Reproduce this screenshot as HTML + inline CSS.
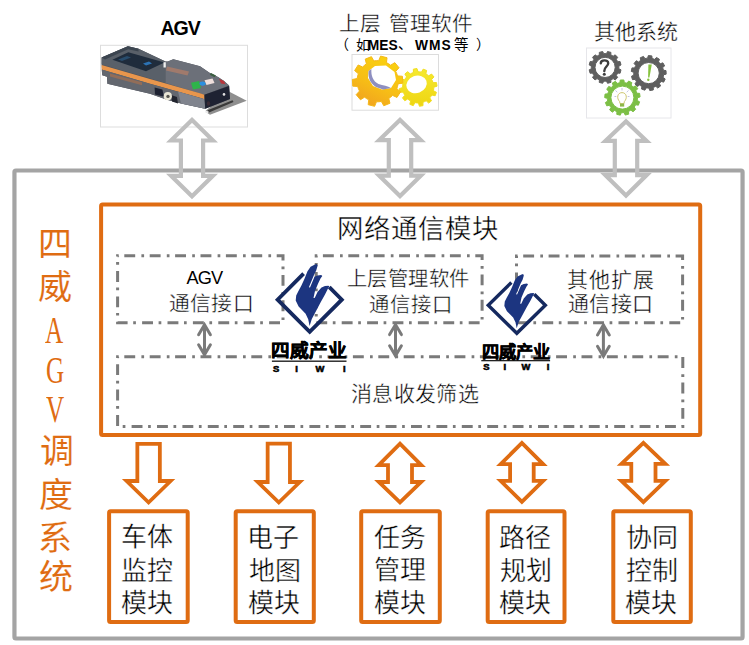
<!DOCTYPE html>
<html lang="zh-CN"><head><meta charset="utf-8"><title>四威AGV调度系统</title>
<style>
html,body{margin:0;padding:0;background:#fff;}
body{width:749px;height:645px;position:relative;overflow:hidden;font-family:"Liberation Serif",serif;}
svg.bg{position:absolute;left:0;top:0;}
.t{position:absolute;white-space:nowrap;}
</style></head><body>
<svg class="bg" width="749" height="645" viewBox="0 0 749 645">
<rect x="14.45" y="170.5" width="728.1" height="468" fill="none" stroke="#A4A4A4" stroke-width="4.2" rx="1.5"/>
<rect x="100.5" y="45.3" width="147" height="81.7" fill="#fff" stroke="#DDDDDD" stroke-width="1"/>
<rect x="352" y="54.5" width="86.5" height="55.7" fill="#fff" stroke="#DCDCDC" stroke-width="1"/>
<rect x="586.5" y="48" width="84.5" height="70" fill="#fff" stroke="#E6E6EA" stroke-width="1"/>
<clipPath id="ga0"><polygon points="192,117 218,142.6 205.2,142.6 205.2,173.7 218,173.7 192,199.3 166,173.7 178.8,173.7 178.8,142.6 166,142.6"/></clipPath><polygon points="192,117 218,142.6 205.2,142.6 205.2,173.7 218,173.7 192,199.3 166,173.7 178.8,173.7 178.8,142.6 166,142.6" fill="none" stroke="#BFBFBF" stroke-width="8.4" stroke-linejoin="miter" stroke-miterlimit="10" clip-path="url(#ga0)"/>
<clipPath id="ga1"><polygon points="400,117 426,142.3 413.3,142.3 413.3,173.6 426,173.6 400,198.9 374,173.6 386.7,173.6 386.7,142.3 374,142.3"/></clipPath><polygon points="400,117 426,142.3 413.3,142.3 413.3,173.6 426,173.6 400,198.9 374,173.6 386.7,173.6 386.7,142.3 374,142.3" fill="none" stroke="#BFBFBF" stroke-width="8.4" stroke-linejoin="miter" stroke-miterlimit="10" clip-path="url(#ga1)"/>
<clipPath id="ga2"><polygon points="626,118.4 651.8,143 639.3,143 639.3,173.1 651.8,173.1 626,198.6 600.2,173.1 612.7,173.1 612.7,143 600.2,143"/></clipPath><polygon points="626,118.4 651.8,143 639.3,143 639.3,173.1 651.8,173.1 626,198.6 600.2,173.1 612.7,173.1 612.7,143 600.2,143" fill="none" stroke="#BFBFBF" stroke-width="8.4" stroke-linejoin="miter" stroke-miterlimit="10" clip-path="url(#ga2)"/>
<rect x="101.1" y="204.6" width="599.1" height="230.4" fill="none" stroke="#DF6C12" stroke-width="4" rx="1.5"/>
<rect x="117.6" y="255.8" width="165.4" height="66.9" fill="none" stroke="#7A7A7A" stroke-width="3" stroke-dasharray="2.7 5.6 10.9 6.2" stroke-dashoffset="1.6"/>
<rect x="316.2" y="255.8" width="165.9" height="66.9" fill="none" stroke="#7A7A7A" stroke-width="3" stroke-dasharray="2.7 5.6 10.9 6.2" stroke-dashoffset="1.6"/>
<rect x="516.5" y="256" width="166.1" height="66.8" fill="none" stroke="#7A7A7A" stroke-width="3" stroke-dasharray="2.7 5.6 10.9 6.2" stroke-dashoffset="1.6"/>
<rect x="117.6" y="356.8" width="565.2" height="69.6" fill="none" stroke="#7A7A7A" stroke-width="3" stroke-dasharray="2.7 5.6 10.9 6.2" stroke-dashoffset="1.6"/>
<g stroke="#7A7A7A" stroke-width="3" fill="none" stroke-linecap="round" stroke-linejoin="miter"><line x1="204.5" y1="325.5" x2="204.5" y2="354"/><polyline points="198.6,334.8 204.5,324.8 210.4,334.8"/><polyline points="198.6,344.7 204.5,354.7 210.4,344.7"/></g>
<g stroke="#7A7A7A" stroke-width="3" fill="none" stroke-linecap="round" stroke-linejoin="miter"><line x1="395.5" y1="325.3" x2="395.5" y2="355"/><polyline points="389.6,334.6 395.5,324.6 401.4,334.6"/><polyline points="389.6,345.7 395.5,355.7 401.4,345.7"/></g>
<g stroke="#7A7A7A" stroke-width="3" fill="none" stroke-linecap="round" stroke-linejoin="miter"><line x1="603.4" y1="325.7" x2="603.4" y2="355.5"/><polyline points="597.5,335 603.4,325 609.3,335"/><polyline points="597.5,346.2 603.4,356.2 609.3,346.2"/></g>
<clipPath id="oa0"><polygon points="135.45,441.9 161.75,441.9 161.75,479.1 175.3,479.1 148.6,505.1 121.9,479.1 135.45,479.1"/></clipPath><polygon points="135.45,441.9 161.75,441.9 161.75,479.1 175.3,479.1 148.6,505.1 121.9,479.1 135.45,479.1" fill="none" stroke="#DF6C12" stroke-width="7.6" stroke-linejoin="miter" stroke-miterlimit="10" clip-path="url(#oa0)"/>
<clipPath id="oa1"><polygon points="265.75,441.7 291.85,441.7 291.85,480.1 304.5,480.1 278.8,505.1 253.1,480.1 265.75,480.1"/></clipPath><polygon points="265.75,441.7 291.85,441.7 291.85,480.1 304.5,480.1 278.8,505.1 253.1,480.1 265.75,480.1" fill="none" stroke="#DF6C12" stroke-width="7.6" stroke-linejoin="miter" stroke-miterlimit="10" clip-path="url(#oa1)"/>
<clipPath id="oa2"><polygon points="400,441 425.9,467 413.9,467 413.9,480.1 425.9,480.1 400,505.1 374.1,480.1 386.1,480.1 386.1,467 374.1,467"/></clipPath><polygon points="400,441 425.9,467 413.9,467 413.9,480.1 425.9,480.1 400,505.1 374.1,480.1 386.1,480.1 386.1,467 374.1,467" fill="none" stroke="#DF6C12" stroke-width="7.6" stroke-linejoin="miter" stroke-miterlimit="10" clip-path="url(#oa2)"/>
<clipPath id="oa3"><polygon points="521.9,440.3 547.75,466 535.6,466 535.6,479 547.75,479 521.9,504.4 496.05,479 508.2,479 508.2,466 496.05,466"/></clipPath><polygon points="521.9,440.3 547.75,466 535.6,466 535.6,479 547.75,479 521.9,504.4 496.05,479 508.2,479 508.2,466 496.05,466" fill="none" stroke="#DF6C12" stroke-width="7.6" stroke-linejoin="miter" stroke-miterlimit="10" clip-path="url(#oa3)"/>
<clipPath id="oa4"><polygon points="643.4,440.3 670.1,465.7 657.4,465.7 657.4,479 670.1,479 643.4,504.7 616.7,479 629.4,479 629.4,465.7 616.7,465.7"/></clipPath><polygon points="643.4,440.3 670.1,465.7 657.4,465.7 657.4,479 670.1,479 643.4,504.7 616.7,479 629.4,479 629.4,465.7 616.7,465.7" fill="none" stroke="#DF6C12" stroke-width="7.6" stroke-linejoin="miter" stroke-miterlimit="10" clip-path="url(#oa4)"/>
<rect x="109.1" y="511.3" width="78.6" height="110.7" fill="none" stroke="#DF6C12" stroke-width="4" rx="1.5"/>
<rect x="235.7" y="511.3" width="78.1" height="110.7" fill="none" stroke="#DF6C12" stroke-width="4" rx="1.5"/>
<rect x="361.2" y="511.3" width="78.6" height="110.7" fill="none" stroke="#DF6C12" stroke-width="4" rx="1.5"/>
<rect x="487.7" y="511.3" width="76.8" height="110.7" fill="none" stroke="#DF6C12" stroke-width="4" rx="1.5"/>
<rect x="613.3" y="511.3" width="77.5" height="110.7" fill="none" stroke="#DF6C12" stroke-width="4" rx="1.5"/>
<g><polygon points="228,91 246.7,100.8 210,114.8 205,111.5" fill="#8F8F8F"/><polygon points="207.5,110.2 232.5,100.3 233.5,102 209,112.4" fill="#3A3A3A"/><polygon points="205,110.8 208.6,111.5 208,113 205,112.4" fill="#F2F2F2"/><polygon points="101.6,57.6 127.9,46.3 138.5,48.8 165.5,61.5 167.8,61.4 173.3,59.3 200,66.3 209.5,72.7 218,76.9 224,81 229.1,85.5 230,99.1 205.2,108.8 181,103.5 167,99.8 150,93.8 107.4,83.8 107,76.8 102.3,75.2 101.6,64" fill="#4E525B"/><polygon points="101.6,57.6 127.9,46.3 138.5,48.8 165.5,61.5 165.5,82.9 101.6,64.6" fill="#596069"/><polygon points="101.6,57.6 127.9,46.3 138.5,48.8 138.5,51.6 128.2,49.2 105,59.6" fill="#3C4550"/><polygon points="112.4,59.8 128.3,52.2 164.5,62.6 146,71.2" fill="#1F2C3C"/><polygon points="143,63.5 149,61.5 152,63.5 146,65.5" fill="#2C73B5"/><polygon points="118,59.5 127,56 131,57.5 122,61" fill="#2C5A80" opacity="0.7"/><polygon points="165.5,61.5 167.8,61.4 173.3,59.3 200,66.3 209.5,72.7 218,76.9 224,81 229.1,85.5 204.4,94.8 165.5,83" fill="#6C7079"/><polygon points="163.5,62.2 165.8,62.2 165.8,67.5 163.5,67.5" fill="#F0F0F0"/><polygon points="167,66.5 189,71.5 187.5,75.5 166,70.5" fill="#A07A6C"/><polygon points="101.6,65 150,79.1 200,93.3 204.4,94.7 204.4,99.2 200,97.8 150,83.8 101.6,69.6" fill="#E9964C"/><polygon points="101.6,69.6 150,83.8 204.4,99.2 205.2,108.8 181,103.5 167,99.8 150,93.8 107.4,83.8 107,76.8 102.3,75.2" fill="#63676F"/><polygon points="178,91.5 204.4,99.2 205.2,108.8 181,103.5" fill="#80848E"/><polygon points="110,73.5 142,82.3 142,85.3 110,76.5" fill="#9A6E55" opacity="0.85"/><polygon points="154.6,87.4 162.4,89.6 164,96.8 155,94.6" fill="#1E2232"/><polygon points="171,95 177,97 178,103.5 172,101.5" fill="#22252F"/><circle cx="167.8" cy="96.2" r="4.1" fill="#EAE6D6"/><circle cx="168" cy="96.4" r="1.7" fill="#55544E"/><polygon points="204.4,94.8 229.1,85.9 230,99.1 205.2,108.8" fill="#1E2232"/><circle cx="224" cy="94.4" r="1.3" fill="#E0E0E0"/><ellipse cx="208.5" cy="103.5" rx="1.7" ry="2.2" fill="#3A2A35"/><polygon points="191,82.8 199,81 201,88 193,89.6" fill="#2EB44A"/><ellipse cx="202.6" cy="83.6" rx="3.1" ry="2.1" fill="#2B8FE0"/><polygon points="204.5,80.2 212.5,78.6 214.5,83 206.5,85" fill="#EEDFDC"/><polygon points="219,78.8 224,81 225.5,84.2 221,83.6" fill="#B8343A"/><polygon points="211,73 216,75.6 214.5,77.3 209.8,74.8" fill="#3B5E40"/></g>
<g><defs><linearGradient id="gy1" x1="0.7" y1="0" x2="0.2" y2="1"><stop offset="0" stop-color="#FAD20E"/><stop offset="0.55" stop-color="#F7BE16"/><stop offset="1" stop-color="#F0A020"/></linearGradient><linearGradient id="gy2" x1="0" y1="0" x2="0" y2="1"><stop offset="0" stop-color="#F6EA30"/><stop offset="1" stop-color="#EED512"/></linearGradient></defs><path d="M433.72,88.96 L433.45,90.69 L436.44,92.35 L435.15,95.77 L431.81,95.03 L430.86,96.51 L429.76,97.87 L431.52,100.81 L428.69,103.12 L426.17,100.81 L424.61,101.62 L422.97,102.25 L423.03,105.67 L419.43,106.26 L418.4,103 L416.64,102.92 L414.91,102.65 L413.25,105.64 L409.83,104.35 L410.57,101.01 L409.09,100.06 L407.73,98.96 L404.79,100.72 L402.48,97.89 L404.79,95.37 L403.98,93.81 L403.35,92.17 L399.93,92.23 L399.34,88.63 L402.6,87.6 L402.68,85.84 L402.95,84.11 L399.96,82.45 L401.25,79.03 L404.59,79.77 L405.54,78.29 L406.64,76.93 L404.88,73.99 L407.71,71.68 L410.23,73.99 L411.79,73.18 L413.43,72.55 L413.37,69.13 L416.97,68.54 L418,71.8 L419.76,71.88 L421.49,72.15 L423.15,69.16 L426.57,70.45 L425.83,73.79 L427.31,74.74 L428.67,75.84 L431.61,74.08 L433.92,76.91 L431.61,79.43 L432.42,80.99 L433.05,82.63 L436.47,82.57 L437.06,86.17 L433.8,87.2Z" fill="url(#gy2)" stroke="#F1DE20" stroke-width="1" stroke-linejoin="round"/><ellipse cx="416.6" cy="84.4" rx="10.4" ry="8.6" transform="rotate(-20 416.6 84.4)" fill="#fff"/><path d="M397.56,86.3 L396.81,88.64 L400.57,91.8 L397.01,97.42 L392.55,95.38 L390.75,97.06 L388.77,98.51 L389.96,103.28 L383.77,105.74 L381.36,101.45 L378.92,101.76 L376.46,101.77 L374.62,106.32 L368.17,104.68 L368.74,99.8 L366.59,98.61 L364.59,97.17 L360.42,99.77 L356.17,94.65 L359.5,91.03 L358.46,88.81 L357.69,86.47 L352.78,86.13 L352.36,79.49 L357.18,78.52 L357.64,76.1 L358.39,73.76 L354.63,70.6 L358.19,64.98 L362.65,67.02 L364.45,65.34 L366.43,63.89 L365.24,59.12 L371.43,56.66 L373.84,60.95 L376.28,60.64 L378.74,60.63 L380.58,56.08 L387.03,57.72 L386.46,62.6 L388.61,63.79 L390.61,65.23 L394.78,62.63 L399.03,67.75 L395.7,71.37 L396.74,73.59 L397.51,75.93 L402.42,76.27 L402.84,82.91 L398.02,83.88Z" fill="url(#gy1)" stroke="#F5B818" stroke-width="1" stroke-linejoin="round"/><polygon points="368.5,71 375,66 386,65.5 394.5,72 396,80 391,88 382,89.5 373,86 368,78" fill="#fff"/><path d="M368.6,71 C368,78 370,83 376,87 L383,89.4 L391,88 C388,86 383,85.5 378.5,84 C373,81 371,76 371.4,69 Z" fill="#8E8FC0"/></g>
<g><path d="M618.9,67.4 L618.83,68.77 L621.01,69.84 L620.1,73.25 L617.68,73.08 L617.05,74.3 L616.31,75.45 L617.66,77.47 L615.17,79.96 L613.15,78.61 L612,79.35 L610.78,79.98 L610.95,82.4 L607.54,83.31 L606.47,81.13 L605.1,81.2 L603.73,81.13 L602.66,83.31 L599.25,82.4 L599.42,79.98 L598.2,79.35 L597.05,78.61 L595.03,79.96 L592.54,77.47 L593.89,75.45 L593.15,74.3 L592.52,73.08 L590.1,73.25 L589.19,69.84 L591.37,68.77 L591.3,67.4 L591.37,66.03 L589.19,64.96 L590.1,61.55 L592.52,61.72 L593.15,60.5 L593.89,59.35 L592.54,57.33 L595.03,54.84 L597.05,56.19 L598.2,55.45 L599.42,54.82 L599.25,52.4 L602.66,51.49 L603.73,53.67 L605.1,53.6 L606.47,53.67 L607.54,51.49 L610.95,52.4 L610.78,54.82 L612,55.45 L613.15,56.19 L615.17,54.84 L617.66,57.33 L616.31,59.35 L617.05,60.5 L617.68,61.72 L620.1,61.55 L621.01,64.96 L618.83,66.03Z M595,67.4 a10.1,10.1 0 1,0 20.2,0 a10.1,10.1 0 1,0 -20.2,0Z" fill="#5F5F5F" fill-rule="evenodd" stroke="#5F5F5F" stroke-width="1" stroke-linejoin="round"/><path d="M663.4,76.08 L663.07,77.42 L665.2,78.94 L663.68,82.14 L661.15,81.46 L660.33,82.57 L659.41,83.6 L660.59,85.94 L657.76,88.07 L655.84,86.29 L654.6,86.89 L653.31,87.37 L653.27,89.99 L649.77,90.57 L648.89,88.1 L647.51,88.05 L646.15,87.88 L644.89,90.18 L641.53,89.06 L641.9,86.47 L640.7,85.79 L639.57,85 L637.39,86.45 L634.93,83.9 L636.46,81.78 L635.72,80.62 L635.09,79.4 L632.48,79.67 L631.49,76.26 L633.83,75.1 L633.71,73.72 L633.72,72.35 L631.28,71.38 L631.99,67.9 L634.61,67.96 L635.14,66.69 L635.78,65.47 L634.08,63.48 L636.32,60.73 L638.61,62 L639.67,61.12 L640.81,60.34 L640.22,57.79 L643.48,56.4 L644.93,58.58 L646.27,58.3 L647.64,58.14 L648.31,55.6 L651.84,55.88 L652.11,58.49 L653.43,58.87 L654.72,59.36 L656.48,57.43 L659.48,59.32 L658.5,61.75 L659.5,62.69 L660.41,63.73 L662.88,62.84 L664.65,65.91 L662.66,67.6 L663.1,68.91 L663.43,70.25 L666.02,70.6 L666.17,74.15 L663.61,74.72Z M638.1,73.1 a10.6,10.6 0 1,0 21.2,0 a10.6,10.6 0 1,0 -21.2,0Z" fill="#5F5F5F" fill-rule="evenodd" stroke="#5F5F5F" stroke-width="1" stroke-linejoin="round"/><path d="M637.42,99.11 L637.22,100.48 L639.59,101.81 L638.39,105.19 L635.71,104.73 L635,105.92 L634.19,107.04 L635.67,109.32 L633.03,111.75 L630.88,110.1 L629.69,110.82 L628.45,111.43 L628.7,114.14 L625.24,115.07 L624.1,112.6 L622.71,112.7 L621.33,112.66 L620.29,115.17 L616.79,114.39 L616.93,111.67 L615.66,111.11 L614.45,110.44 L612.37,112.18 L609.63,109.86 L611.02,107.52 L610.15,106.43 L609.4,105.27 L606.74,105.85 L605.4,102.52 L607.71,101.09 L607.45,99.73 L607.32,98.35 L604.7,97.63 L605.06,94.06 L607.77,93.87 L608.17,92.54 L608.7,91.26 L606.72,89.4 L608.69,86.4 L611.18,87.49 L612.15,86.51 L613.21,85.62 L612.32,83.05 L615.46,81.32 L617.16,83.44 L618.48,83.02 L619.84,82.72 L620.24,80.03 L623.83,79.96 L624.34,82.63 L625.71,82.87 L627.04,83.23 L628.65,81.04 L631.86,82.64 L631.08,85.24 L632.18,86.09 L633.19,87.04 L635.63,85.84 L637.73,88.75 L635.83,90.69 L636.4,91.95 L636.86,93.26 L639.58,93.34 L640.09,96.89 L637.5,97.72Z M610.9,97.6 a11.5,11.5 0 1,0 23,0 a11.5,11.5 0 1,0 -23,0Z" fill="#7CBF45" fill-rule="evenodd" stroke="#7CBF45" stroke-width="1" stroke-linejoin="round"/><path d="M600.8,63.2 C600.8,59.8 608.2,59.2 608.2,63.2 C608.2,66.4 604.3,66.8 604.3,71" fill="none" stroke="#3E3E3E" stroke-width="2.4" stroke-linecap="round"/><circle cx="604.3" cy="74.3" r="1.5" fill="#3E3E3E"/><polygon points="648.4,64.4 651.8,64.4 649.4,77.4 648.1,77.4" fill="#86C23E"/><circle cx="648.3" cy="79.8" r="1.2" fill="#86C23E"/><path d="M619.6,101.5 C616.6,98.5 617,92.8 622,92.6 C627,92.8 627.4,98.5 624.4,101.5 L624,103.6 L620,103.6 Z" fill="none" stroke="#C8C060" stroke-width="0.9"/><rect x="620" y="103.6" width="4.2" height="3" fill="#8CB848"/><g stroke="#B4B4D8" stroke-width="0.8"><line x1="622" y1="88" x2="622" y2="90.5"/><line x1="615.5" y1="90.5" x2="617.3" y2="92.2"/><line x1="628.5" y1="90.5" x2="626.7" y2="92.2"/><line x1="614.5" y1="96.5" x2="616.3" y2="96.5"/><line x1="629.5" y1="96.5" x2="627.7" y2="96.5"/></g></g>
<g><polyline points="303.6,273.7 277.6,299.7 309.7,331.8 341.8,299.7 329.3,287.2" fill="none" stroke="#15295F" stroke-width="3.8" stroke-linejoin="miter"/><polygon points="315,264.5 316.8,264.1 317.6,265.8 316.2,270.5 314,275 308.9,287.2 310,287.4 314.5,276.8 317.5,275.4 321.2,275 322.3,276 320.5,278.5 318,283.7 315,291 313.5,298 314.7,298 317.5,292 321.5,287.6 325,286 328.4,285.7 329.4,286.6 328,288.5 325,294.5 320.8,302 315.8,311.5 311.8,318.9 309.6,326 308.2,319.2 305.6,313.8 298.6,306.6 295.7,300.5 296.2,295.5 298.2,291.5 301.3,285.8 304.4,279 307.5,271.3 310.6,266.8" fill="#1C3580"/></g>
<g transform="translate(516.8,305.2) scale(0.89,0.875) translate(-309.7,-299.7)"><polyline points="303.6,273.7 277.6,299.7 309.7,331.8 341.8,299.7 329.3,287.2" fill="none" stroke="#15295F" stroke-width="3.8" stroke-linejoin="miter"/><polygon points="315,264.5 316.8,264.1 317.6,265.8 316.2,270.5 314,275 308.9,287.2 310,287.4 314.5,276.8 317.5,275.4 321.2,275 322.3,276 320.5,278.5 318,283.7 315,291 313.5,298 314.7,298 317.5,292 321.5,287.6 325,286 328.4,285.7 329.4,286.6 328,288.5 325,294.5 320.8,302 315.8,311.5 311.8,318.9 309.6,326 308.2,319.2 305.6,313.8 298.6,306.6 295.7,300.5 296.2,295.5 298.2,291.5 301.3,285.8 304.4,279 307.5,271.3 310.6,266.8" fill="#1C3580"/></g>
<rect x="271.9" y="360.5" width="74.6" height="1.4" fill="#222"/>
<rect x="481.3" y="360" width="68.8" height="1.3" fill="#222"/>
</svg>
<div class="t" style="left:160.39px;top:18.57px;font-size:19.6px;line-height:19.6px;font-family:'Liberation Sans', sans-serif;color:#000;font-weight:bold;letter-spacing:-1px;">AGV</div>
<div class="t" style="left:338.82px;top:13.6px;font-size:20.6px;line-height:20.6px;font-family:'Liberation Serif', serif;color:#000;font-weight:normal;-webkit-text-stroke:0.4px #fff;">上层<span style="display:inline-block;width:8px"></span>管理软件</div>
<div class="t" style="left:335px;top:38.1px;font-size:14px;line-height:14px;font-family:'Liberation Serif', serif;color:#000;font-weight:normal;">（</div>
<div class="t" style="left:355.9px;top:39px;font-size:14px;line-height:14px;font-family:'Liberation Serif', serif;color:#000;font-weight:normal;">如</div>
<div class="t" style="left:367.85px;top:38.92px;font-size:13.8px;line-height:13.8px;font-family:'Liberation Sans', sans-serif;color:#000;font-weight:bold;">MES</div>
<div class="t" style="left:398.4px;top:37.8px;font-size:14px;line-height:14px;font-family:'Liberation Serif', serif;color:#000;font-weight:normal;">、</div>
<div class="t" style="left:414.88px;top:38.92px;font-size:13.8px;line-height:13.8px;font-family:'Liberation Sans', sans-serif;color:#000;font-weight:bold;letter-spacing:1px;">WMS</div>
<div class="t" style="left:453.66px;top:38.1px;font-size:14.5px;line-height:14.5px;font-family:'Liberation Serif', serif;color:#000;font-weight:normal;">等</div>
<div class="t" style="left:476.12px;top:38.1px;font-size:14px;line-height:14px;font-family:'Liberation Serif', serif;color:#000;font-weight:normal;">）</div>
<div class="t" style="left:594.18px;top:22.17px;font-size:21px;line-height:21px;font-family:'Liberation Serif', serif;color:#000;font-weight:normal;-webkit-text-stroke:0.4px #fff;">其他系统</div>
<div class="t" style="left:336.78px;top:215.9px;font-size:26.4px;line-height:26.4px;font-family:'Liberation Serif', serif;color:#000;font-weight:normal;letter-spacing:1px;-webkit-text-stroke:0.4px #fff;">网络通信模块</div>
<div class="t" style="left:186.54px;top:269.02px;font-size:18.2px;line-height:18.2px;font-family:'Liberation Sans', sans-serif;color:#000;font-weight:normal;letter-spacing:-0.9px;">AGV</div>
<div class="t" style="left:168.5px;top:294.2px;font-size:20.8px;line-height:20.8px;font-family:'Liberation Serif', serif;color:#000;font-weight:normal;letter-spacing:0.4px;-webkit-text-stroke:0.4px #fff;">通信接口</div>
<div class="t" style="left:346.7px;top:268.76px;font-size:20.3px;line-height:20.3px;font-family:'Liberation Serif', serif;color:#000;font-weight:normal;letter-spacing:0.5px;-webkit-text-stroke:0.4px #fff;">上层管理软件</div>
<div class="t" style="left:368.9px;top:294.54px;font-size:20.4px;line-height:20.4px;font-family:'Liberation Serif', serif;color:#000;font-weight:normal;letter-spacing:1px;-webkit-text-stroke:0.4px #fff;">通信接口</div>
<div class="t" style="left:567.11px;top:269.74px;font-size:21px;line-height:21px;font-family:'Liberation Serif', serif;color:#000;font-weight:normal;letter-spacing:0.8px;-webkit-text-stroke:0.4px #fff;">其他扩展</div>
<div class="t" style="left:567.59px;top:294.37px;font-size:21px;line-height:21px;font-family:'Liberation Serif', serif;color:#000;font-weight:normal;letter-spacing:0.6px;-webkit-text-stroke:0.4px #fff;">通信接口</div>
<div class="t" style="left:350.74px;top:384px;font-size:21px;line-height:21px;font-family:'Liberation Serif', serif;color:#000;font-weight:normal;letter-spacing:0.4px;-webkit-text-stroke:0.4px #fff;">消息收发筛选</div>
<div class="t" style="left:38.1px;top:228.1px;font-size:34px;line-height:34px;font-family:'Liberation Serif', serif;color:#DF6C12;font-weight:normal;-webkit-text-stroke:0.1px #fff;">四</div>
<div class="t" style="left:38.14px;top:271.48px;font-size:34px;line-height:34px;font-family:'Liberation Serif', serif;color:#DF6C12;font-weight:normal;-webkit-text-stroke:0.1px #fff;">威</div>
<div class="t" style="left:39.5px;top:435.18px;font-size:34px;line-height:34px;font-family:'Liberation Serif', serif;color:#DF6C12;font-weight:normal;-webkit-text-stroke:0.1px #fff;">调</div>
<div class="t" style="left:38.6px;top:478.54px;font-size:34px;line-height:34px;font-family:'Liberation Serif', serif;color:#DF6C12;font-weight:normal;-webkit-text-stroke:0.1px #fff;">度</div>
<div class="t" style="left:37.7px;top:521.7px;font-size:34px;line-height:34px;font-family:'Liberation Serif', serif;color:#DF6C12;font-weight:normal;-webkit-text-stroke:0.1px #fff;">系</div>
<div class="t" style="left:38.6px;top:561.28px;font-size:34px;line-height:34px;font-family:'Liberation Serif', serif;color:#DF6C12;font-weight:normal;-webkit-text-stroke:0.1px #fff;">统</div>
<div class="t" style="left:45.38px;top:312.48px;font-size:37px;line-height:37px;font-family:'Liberation Serif', serif;color:#DF6C12;font-weight:normal;transform:scaleX(0.68);transform-origin:0 0;">A</div>
<div class="t" style="left:45.7px;top:352.1px;font-size:37px;line-height:37px;font-family:'Liberation Serif', serif;color:#DF6C12;font-weight:normal;transform:scaleX(0.68);transform-origin:0 0;">G</div>
<div class="t" style="left:46.28px;top:391.12px;font-size:37px;line-height:37px;font-family:'Liberation Serif', serif;color:#DF6C12;font-weight:normal;transform:scaleX(0.68);transform-origin:0 0;">V</div>
<div class="t" style="left:121.34px;top:524.94px;font-size:26px;line-height:26px;font-family:'Liberation Serif', serif;color:#000;font-weight:normal;-webkit-text-stroke:0.4px #fff;">车体</div>
<div class="t" style="left:121.34px;top:558.72px;font-size:26px;line-height:26px;font-family:'Liberation Serif', serif;color:#000;font-weight:normal;-webkit-text-stroke:0.4px #fff;">监控</div>
<div class="t" style="left:121.34px;top:590.94px;font-size:26px;line-height:26px;font-family:'Liberation Serif', serif;color:#000;font-weight:normal;-webkit-text-stroke:0.4px #fff;">模块</div>
<div class="t" style="left:246.85px;top:525.84px;font-size:26px;line-height:26px;font-family:'Liberation Serif', serif;color:#000;font-weight:normal;-webkit-text-stroke:0.4px #fff;">电子</div>
<div class="t" style="left:248.65px;top:558.72px;font-size:26px;line-height:26px;font-family:'Liberation Serif', serif;color:#000;font-weight:normal;-webkit-text-stroke:0.4px #fff;">地图</div>
<div class="t" style="left:247.75px;top:590.94px;font-size:26px;line-height:26px;font-family:'Liberation Serif', serif;color:#000;font-weight:normal;-webkit-text-stroke:0.4px #fff;">模块</div>
<div class="t" style="left:373.98px;top:525.84px;font-size:26px;line-height:26px;font-family:'Liberation Serif', serif;color:#000;font-weight:normal;-webkit-text-stroke:0.4px #fff;">任务</div>
<div class="t" style="left:373.98px;top:557.82px;font-size:26px;line-height:26px;font-family:'Liberation Serif', serif;color:#000;font-weight:normal;-webkit-text-stroke:0.4px #fff;">管理</div>
<div class="t" style="left:373.98px;top:590.94px;font-size:26px;line-height:26px;font-family:'Liberation Serif', serif;color:#000;font-weight:normal;-webkit-text-stroke:0.4px #fff;">模块</div>
<div class="t" style="left:499.22px;top:525.84px;font-size:26px;line-height:26px;font-family:'Liberation Serif', serif;color:#000;font-weight:normal;-webkit-text-stroke:0.4px #fff;">路径</div>
<div class="t" style="left:500.12px;top:558.72px;font-size:26px;line-height:26px;font-family:'Liberation Serif', serif;color:#000;font-weight:normal;-webkit-text-stroke:0.4px #fff;">规划</div>
<div class="t" style="left:499.22px;top:590.94px;font-size:26px;line-height:26px;font-family:'Liberation Serif', serif;color:#000;font-weight:normal;-webkit-text-stroke:0.4px #fff;">模块</div>
<div class="t" style="left:625.81px;top:525.84px;font-size:26px;line-height:26px;font-family:'Liberation Serif', serif;color:#000;font-weight:normal;-webkit-text-stroke:0.4px #fff;">协同</div>
<div class="t" style="left:625.8px;top:558.72px;font-size:26px;line-height:26px;font-family:'Liberation Serif', serif;color:#000;font-weight:normal;-webkit-text-stroke:0.4px #fff;">控制</div>
<div class="t" style="left:624.88px;top:590.94px;font-size:26px;line-height:26px;font-family:'Liberation Serif', serif;color:#000;font-weight:normal;-webkit-text-stroke:0.4px #fff;">模块</div>
<div class="t" style="left:270.73px;top:342.14px;font-size:18.6px;line-height:18.6px;font-family:'Liberation Serif', serif;color:#000;font-weight:bold;-webkit-text-stroke:0.5px #000;">四威产业</div>
<div class="t" style="left:481.93px;top:343.58px;font-size:17.2px;line-height:17.2px;font-family:'Liberation Serif', serif;color:#000;font-weight:bold;-webkit-text-stroke:0.5px #000;">四威产业</div>
<div class="t" style="left:273.07px;top:363.52px;font-size:9.4px;line-height:9.4px;font-family:'Liberation Sans', sans-serif;color:#000;font-weight:900;-webkit-text-stroke:0.6px #000;">S</div>
<div class="t" style="left:295.14px;top:363.52px;font-size:9.4px;line-height:9.4px;font-family:'Liberation Sans', sans-serif;color:#000;font-weight:900;-webkit-text-stroke:0.6px #000;">I</div>
<div class="t" style="left:315.52px;top:363.52px;font-size:9.4px;line-height:9.4px;font-family:'Liberation Sans', sans-serif;color:#000;font-weight:900;-webkit-text-stroke:0.6px #000;">W</div>
<div class="t" style="left:343.05px;top:363.52px;font-size:9.4px;line-height:9.4px;font-family:'Liberation Sans', sans-serif;color:#000;font-weight:900;-webkit-text-stroke:0.6px #000;">I</div>
<div class="t" style="left:483.27px;top:362.2px;font-size:9.4px;line-height:9.4px;font-family:'Liberation Sans', sans-serif;color:#000;font-weight:900;-webkit-text-stroke:0.6px #000;">S</div>
<div class="t" style="left:503.55px;top:362.2px;font-size:9.4px;line-height:9.4px;font-family:'Liberation Sans', sans-serif;color:#000;font-weight:900;-webkit-text-stroke:0.6px #000;">I</div>
<div class="t" style="left:521.55px;top:362.2px;font-size:9.4px;line-height:9.4px;font-family:'Liberation Sans', sans-serif;color:#000;font-weight:900;-webkit-text-stroke:0.6px #000;">W</div>
<div class="t" style="left:546.71px;top:362.2px;font-size:9.4px;line-height:9.4px;font-family:'Liberation Sans', sans-serif;color:#000;font-weight:900;-webkit-text-stroke:0.6px #000;">I</div>
</body></html>
